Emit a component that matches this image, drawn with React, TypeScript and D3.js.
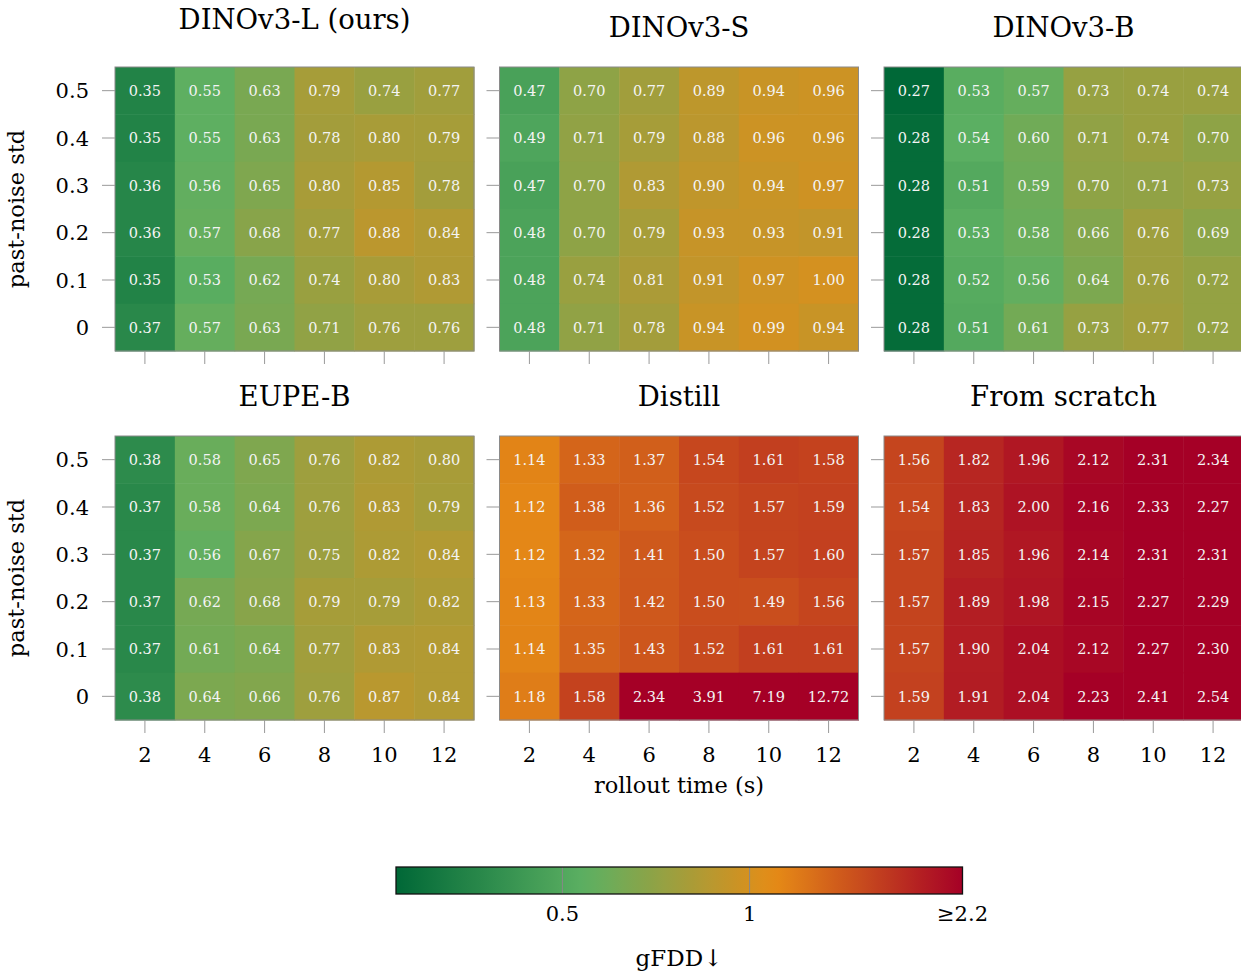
import React from "react";
import * as d3 from "d3";

const rolloutTimes = [2, 4, 6, 8, 10, 12];
const noiseStds = [0.5, 0.4, 0.3, 0.2, 0.1, 0];
const noiseLabels = ["0.5", "0.4", "0.3", "0.2", "0.1", "0"];
const panelTitles = ["DINOv3-L (ours)", "DINOv3-S", "DINOv3-B", "EUPE-B", "Distill", "From scratch"];

// rows ordered from noise 0.5 (top) to 0 (bottom), columns rollout 2..12
const dinoL = [
  [0.35, 0.55, 0.63, 0.79, 0.74, 0.77],
  [0.35, 0.55, 0.63, 0.78, 0.80, 0.79],
  [0.36, 0.56, 0.65, 0.80, 0.85, 0.78],
  [0.36, 0.57, 0.68, 0.77, 0.88, 0.84],
  [0.35, 0.53, 0.62, 0.74, 0.80, 0.83],
  [0.37, 0.57, 0.63, 0.71, 0.76, 0.76],
];
const dinoS = [
  [0.47, 0.70, 0.77, 0.89, 0.94, 0.96],
  [0.49, 0.71, 0.79, 0.88, 0.96, 0.96],
  [0.47, 0.70, 0.83, 0.90, 0.94, 0.97],
  [0.48, 0.70, 0.79, 0.93, 0.93, 0.91],
  [0.48, 0.74, 0.81, 0.91, 0.97, 1.00],
  [0.48, 0.71, 0.78, 0.94, 0.99, 0.94],
];
const dinoB = [
  [0.27, 0.53, 0.57, 0.73, 0.74, 0.74],
  [0.28, 0.54, 0.60, 0.71, 0.74, 0.70],
  [0.28, 0.51, 0.59, 0.70, 0.71, 0.73],
  [0.28, 0.53, 0.58, 0.66, 0.76, 0.69],
  [0.28, 0.52, 0.56, 0.64, 0.76, 0.72],
  [0.28, 0.51, 0.61, 0.73, 0.77, 0.72],
];
const eupeB = [
  [0.38, 0.58, 0.65, 0.76, 0.82, 0.80],
  [0.37, 0.58, 0.64, 0.76, 0.83, 0.79],
  [0.37, 0.56, 0.67, 0.75, 0.82, 0.84],
  [0.37, 0.62, 0.68, 0.79, 0.79, 0.82],
  [0.37, 0.61, 0.64, 0.77, 0.83, 0.84],
  [0.38, 0.64, 0.66, 0.76, 0.87, 0.84],
];
const distill = [
  [1.14, 1.33, 1.37, 1.54, 1.61, 1.58],
  [1.12, 1.38, 1.36, 1.52, 1.57, 1.59],
  [1.12, 1.32, 1.41, 1.50, 1.57, 1.60],
  [1.13, 1.33, 1.42, 1.50, 1.49, 1.56],
  [1.14, 1.35, 1.43, 1.52, 1.61, 1.61],
  [1.18, 1.58, 2.34, 3.91, 7.19, 12.72],
];
const fromScratch = [
  [1.56, 1.82, 1.96, 2.12, 2.31, 2.34],
  [1.54, 1.83, 2.00, 2.16, 2.33, 2.27],
  [1.57, 1.85, 1.96, 2.14, 2.31, 2.31],
  [1.57, 1.89, 1.98, 2.15, 2.27, 2.29],
  [1.57, 1.90, 2.04, 2.12, 2.27, 2.30],
  [1.59, 1.91, 2.04, 2.23, 2.41, 2.54],
];
const panelData = [dinoL, dinoS, dinoB, eupeB, distill, fromScratch];

const colorMin = 0.27;
const colorMax = 2.2;
const colorStops = ["#006837", "#5cb062", "#e68c16", "#a50026"];
const colorbarTicks = [0.5, 1];
const colorbarTickLabels = ["0.5", "1"];

const FONT = "'DejaVu Serif', serif";

const W = 1241;
const H = 973;
const panelW = 359;
const panelH = 284;
const colLefts = [115, 499.5, 884];
const rowTops = [67, 436];

const tScale = d3.scaleLog().domain([colorMin, colorMax]).range([0, 1]).clamp(true);
const interp = d3.scaleLinear<string>()
  .domain([0, 1 / 3, 2 / 3, 1])
  .range(colorStops)
  .interpolate(d3.interpolateRgb);
const color = (v: number) => interp(tScale(v));

function Panel({ idx }: { idx: number }) {
  const r = Math.floor(idx / 3);
  const c = idx % 3;
  const x0 = colLefts[c];
  const y0 = rowTops[r];
  const data = panelData[idx];
  const xs = d3.scaleBand<number>().domain(rolloutTimes).range([0, panelW]);
  const ys = d3.scaleBand<number>().domain(noiseStds).range([0, panelH]);
  const tickLen = 13;
  const tickColor = "#999";
  const title = panelTitles[idx];
  const hasDesc = /[()]/.test(title);
  return (
    <g transform={`translate(${x0},${y0})`}>
      <text
        x={panelW / 2}
        y={hasDesc ? -38 : -30}
        textAnchor="middle"
        fontFamily={FONT}
        fontSize={27.5}
        fill="#000"
      >
        {title}
      </text>
      {data.map((row, i) =>
        row.map((v, j) => (
          <rect
            key={`${i}-${j}`}
            x={xs(rolloutTimes[j])!}
            y={ys(noiseStds[i])!}
            width={xs.bandwidth() + 0.5}
            height={ys.bandwidth() + 0.5}
            fill={color(v)}
          />
        ))
      )}
      {data.map((row, i) =>
        row.map((v, j) => (
          <text
            key={`t${i}-${j}`}
            x={xs(rolloutTimes[j])! + xs.bandwidth() / 2}
            y={ys(noiseStds[i])! + ys.bandwidth() / 2}
            dy="0.36em"
            textAnchor="middle"
            fontFamily={FONT}
            fontSize={14.5}
            fill="#f4f4f4"
          >
            {v.toFixed(2)}
          </text>
        ))
      )}
      <rect x={0} y={0} width={panelW} height={panelH} fill="none" stroke="#8a8a8a" strokeWidth={1} />
      {noiseStds.map((n) => (
        <line
          key={`yt${n}`}
          x1={-tickLen}
          x2={0}
          y1={ys(n)! + ys.bandwidth() / 2}
          y2={ys(n)! + ys.bandwidth() / 2}
          stroke={tickColor}
          strokeWidth={1}
        />
      ))}
      {rolloutTimes.map((t) => (
        <line
          key={`xt${t}`}
          x1={xs(t)! + xs.bandwidth() / 2}
          x2={xs(t)! + xs.bandwidth() / 2}
          y1={panelH}
          y2={panelH + tickLen}
          stroke={tickColor}
          strokeWidth={1}
        />
      ))}
      {c === 0 &&
        noiseStds.map((n, k) => (
          <text
            key={`yl${n}`}
            x={-26}
            y={ys(n)! + ys.bandwidth() / 2}
            dy="0.36em"
            textAnchor="end"
            fontFamily={FONT}
            fontSize={21}
            fill="#000"
          >
            {noiseLabels[k]}
          </text>
        ))}
      {c === 0 && (
        <text
          transform={`translate(${-91},${panelH / 2}) rotate(-90)`}
          textAnchor="middle"
          fontFamily={FONT}
          fontSize={22.5}
          fill="#000"
        >
          past-noise std
        </text>
      )}
      {r === 1 &&
        rolloutTimes.map((t) => (
          <text
            key={`xl${t}`}
            x={xs(t)! + xs.bandwidth() / 2}
            y={panelH + 42}
            textAnchor="middle"
            fontFamily={FONT}
            fontSize={21}
            fill="#000"
          >
            {t}
          </text>
        ))}
      {r === 1 && c === 1 && (
        <text
          x={panelW / 2}
          y={panelH + 73}
          textAnchor="middle"
          fontFamily={FONT}
          fontSize={22.5}
          fill="#000"
        >
          rollout time (s)
        </text>
      )}
    </g>
  );
}

function Colorbar() {
  const x0 = 396;
  const x1 = 962.5;
  const y0 = 867;
  const h = 27;
  const xs = d3.scaleLog().domain([colorMin, colorMax]).range([x0, x1]);
  const nStops = 40;
  const stops = d3.range(nStops + 1).map((k) => k / nStops);
  return (
    <g>
      <defs>
        <linearGradient id="cbgrad" x1="0" x2="1" y1="0" y2="0">
          {stops.map((s) => (
            <stop key={s} offset={s} stopColor={interp(s)} />
          ))}
        </linearGradient>
      </defs>
      <rect x={x0} y={y0} width={x1 - x0} height={h} fill="url(#cbgrad)" />
      {colorbarTicks.map((t) => (
        <line key={t} x1={xs(t)} x2={xs(t)} y1={y0} y2={y0 + h} stroke="#888" strokeWidth={1} />
      ))}
      <rect x={x0} y={y0} width={x1 - x0} height={h} fill="none" stroke="#111" strokeWidth={1.3} />
      {colorbarTicks.map((t, k) => (
        <text
          key={`l${t}`}
          x={xs(t)}
          y={921}
          textAnchor="middle"
          fontFamily={FONT}
          fontSize={21}
          fill="#000"
        >
          {colorbarTickLabels[k]}
        </text>
      ))}
      <text x={xs(colorMax)} y={921} textAnchor="middle" fontFamily={FONT} fontSize={21} fill="#000">
        ≥2.2
      </text>
      <text x={679} y={966} textAnchor="middle" fontFamily={FONT} fontSize={23} fill="#000">
        gFDD↓
      </text>
    </g>
  );
}

export default function App() {
  return (
    <svg
      width={W}
      height={H}
      viewBox={`0 0 ${W} ${H}`}
      style={{ position: "absolute", left: 0, top: 0, background: "#fff" }}
    >
      <rect x={0} y={0} width={W} height={H} fill="#fff" />
      {panelTitles.map((_, i) => (
        <Panel key={i} idx={i} />
      ))}
      <Colorbar />
    </svg>
  );
}
